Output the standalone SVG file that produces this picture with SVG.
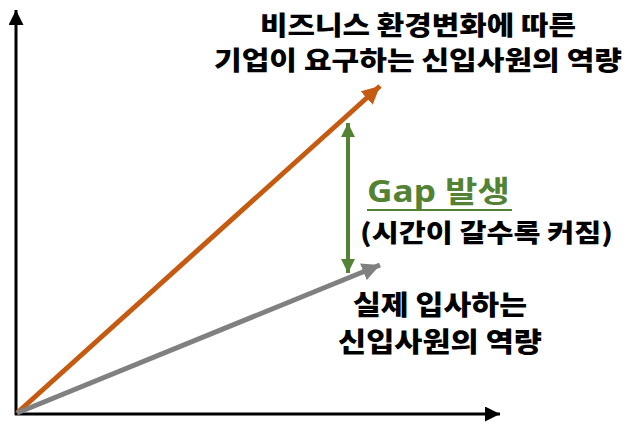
<svg xmlns="http://www.w3.org/2000/svg" width="628" height="424" viewBox="0 0 628 424">
<style>
.t{font-family:"Noto Sans CJK KR","Noto Sans",sans-serif;font-weight:900;fill:#000}
.g{font-family:"Noto Sans","Noto Sans CJK KR",sans-serif;font-weight:bold;fill:#548235}
</style>
<defs>
<marker id="ab" viewBox="0 0 10 10" refX="10" refY="5" markerWidth="5" markerHeight="5" orient="auto" markerUnits="strokeWidth"><path d="M0,0L10,5L0,10z" fill="#000"/></marker>
<marker id="ao" viewBox="0 0 10 10" refX="10" refY="5" markerWidth="3.6" markerHeight="3.6" orient="auto" markerUnits="strokeWidth"><path d="M0,0L10,5L0,10z" fill="#C55A11"/></marker>
<marker id="ag" viewBox="0 0 10 10" refX="10" refY="5" markerWidth="3.6" markerHeight="3.6" orient="auto" markerUnits="strokeWidth"><path d="M0,0L10,5L0,10z" fill="#808080"/></marker>
<marker id="agr" viewBox="0 0 10 10" refX="10" refY="5" markerWidth="3.6" markerHeight="3.6" orient="auto-start-reverse" markerUnits="strokeWidth"><path d="M0,0L10,5L0,10z" fill="#548235"/></marker>
</defs>
<g id="connectors">
<line x1="16" y1="415" x2="16" y2="10" stroke="#000" stroke-width="3" marker-end="url(#ab)"/>
<line x1="15" y1="414" x2="500" y2="414" stroke="#000" stroke-width="3" marker-end="url(#ab)"/>
<line x1="17" y1="413" x2="380" y2="86" stroke="#C55A11" stroke-width="5" marker-end="url(#ao)"/>
<line x1="17" y1="413" x2="380" y2="265" stroke="#808080" stroke-width="5" marker-end="url(#ag)"/>
<line x1="348" y1="123" x2="348" y2="273" stroke="#548235" stroke-width="4" marker-start="url(#agr)" marker-end="url(#agr)"/>
</g>
<g id="top-label">
<text class="t" font-size="26" x="260" y="35" textLength="316" lengthAdjust="spacingAndGlyphs">비즈니스 환경변화에 따른</text>
<text class="t" font-size="26" x="214" y="70" textLength="408" lengthAdjust="spacingAndGlyphs">기업이 요구하는 신입사원의 역량</text>
</g>
<g id="gap-label">
<text class="g" font-size="30" x="367" y="202" textLength="143" lengthAdjust="spacingAndGlyphs">Gap 발생</text>
<line x1="367" y1="210" x2="512" y2="210" stroke="#548235" stroke-width="2"/>
<text class="t" font-size="25" x="360" y="242" textLength="253" lengthAdjust="spacingAndGlyphs">(시간이 갈수록 커짐)</text>
</g>
<g id="bottom-label">
<text class="t" font-size="27" x="353" y="315" textLength="174" lengthAdjust="spacingAndGlyphs">실제 입사하는</text>
<text class="t" font-size="27" x="338" y="352" textLength="204" lengthAdjust="spacingAndGlyphs">신입사원의 역량</text>
</g>
</svg>
